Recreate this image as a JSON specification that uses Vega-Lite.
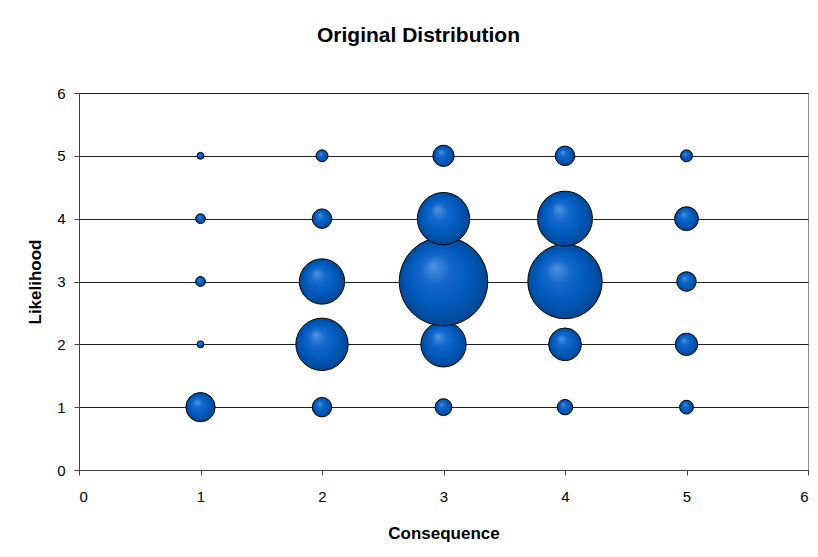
{
  "$schema": "https://vega.github.io/schema/vega-lite/v6.json",
  "width": 729,
  "height": 377,
  "autosize": {"type": "none"},
  "padding": {"left": 79, "top": 93, "right": 10, "bottom": 87},
  "background": "white",
  "config": {
    "font": "Liberation Sans",
    "view": {"stroke": "#8c8c8c", "strokeWidth": 1}
  },
  "title": {
    "text": "Original Distribution",
    "font": "Liberation Sans",
    "fontSize": 21,
    "fontWeight": "bold",
    "color": "#000000",
    "anchor": "middle",
    "frame": "group",
    "baseline": "alphabetic",
    "offset": 23,
    "dx": -25
  },
  "data": {
    "values": [
      {"Consequence": 1, "Likelihood": 1, "Count": 36},
      {"Consequence": 2, "Likelihood": 1, "Count": 16},
      {"Consequence": 3, "Likelihood": 1, "Count": 12},
      {"Consequence": 4, "Likelihood": 1, "Count": 10},
      {"Consequence": 5, "Likelihood": 1, "Count": 8},
      {"Consequence": 1, "Likelihood": 2, "Count": 2},
      {"Consequence": 2, "Likelihood": 2, "Count": 115},
      {"Consequence": 3, "Likelihood": 2, "Count": 86},
      {"Consequence": 4, "Likelihood": 2, "Count": 45},
      {"Consequence": 5, "Likelihood": 2, "Count": 21},
      {"Consequence": 1, "Likelihood": 3, "Count": 4},
      {"Consequence": 2, "Likelihood": 3, "Count": 86},
      {"Consequence": 3, "Likelihood": 3, "Count": 330},
      {"Consequence": 4, "Likelihood": 3, "Count": 233},
      {"Consequence": 5, "Likelihood": 3, "Count": 16},
      {"Consequence": 1, "Likelihood": 4, "Count": 4},
      {"Consequence": 2, "Likelihood": 4, "Count": 16},
      {"Consequence": 3, "Likelihood": 4, "Count": 115},
      {"Consequence": 4, "Likelihood": 4, "Count": 127},
      {"Consequence": 5, "Likelihood": 4, "Count": 24},
      {"Consequence": 1, "Likelihood": 5, "Count": 2},
      {"Consequence": 2, "Likelihood": 5, "Count": 6},
      {"Consequence": 3, "Likelihood": 5, "Count": 19},
      {"Consequence": 4, "Likelihood": 5, "Count": 16},
      {"Consequence": 5, "Likelihood": 5, "Count": 6}
    ]
  },
  "mark": {
    "type": "circle",
    "opacity": 1,
    "fillOpacity": 1,
    "stroke": "#000000",
    "strokeWidth": 1,
    "fill": {
      "gradient": "radial",
      "x1": 0.38, "y1": 0.32, "r1": 0,
      "x2": 0.5, "y2": 0.5, "r2": 0.55,
      "stops": [
        {"offset": 0, "color": "#4f93dc"},
        {"offset": 0.3, "color": "#1368cc"},
        {"offset": 0.6, "color": "#005bbd"},
        {"offset": 0.85, "color": "#004c9f"},
        {"offset": 1, "color": "#003f86"}
      ]
    }
  },
  "encoding": {
    "x": {
      "field": "Consequence",
      "type": "quantitative",
      "scale": {"domain": [0, 6], "nice": false, "zero": true},
      "axis": {
        "title": "Consequence",
        "values": [0, 1, 2, 3, 4, 5, 6],
        "format": "d",
        "grid": false,
        "domainColor": "#404040",
        "tickColor": "#404040",
        "tickSize": 5,
        "labelFontSize": 15,
        "labelColor": "#000000",
        "labelPadding": 14,
        "titleFontSize": 17,
        "titleFontWeight": "bold",
        "titleColor": "#000000",
        "titlePadding": 21
      }
    },
    "y": {
      "field": "Likelihood",
      "type": "quantitative",
      "scale": {"domain": [0, 6], "nice": false, "zero": true},
      "axis": {
        "title": "Likelihood",
        "values": [0, 1, 2, 3, 4, 5, 6],
        "format": "d",
        "grid": true,
        "gridColor": "#202020",
        "gridWidth": 1,
        "gridOpacity": 1,
        "domainColor": "#404040",
        "tickColor": "#404040",
        "tickSize": 5,
        "labelFontSize": 15,
        "labelColor": "#000000",
        "labelPadding": 9,
        "titleFontSize": 17,
        "titleFontWeight": "bold",
        "titleColor": "#000000",
        "titlePadding": 12
      }
    },
    "size": {
      "field": "Count",
      "type": "quantitative",
      "scale": {"type": "linear", "domain": [0, 330], "range": [0, 7854], "zero": true},
      "legend": null
    }
  }
}
